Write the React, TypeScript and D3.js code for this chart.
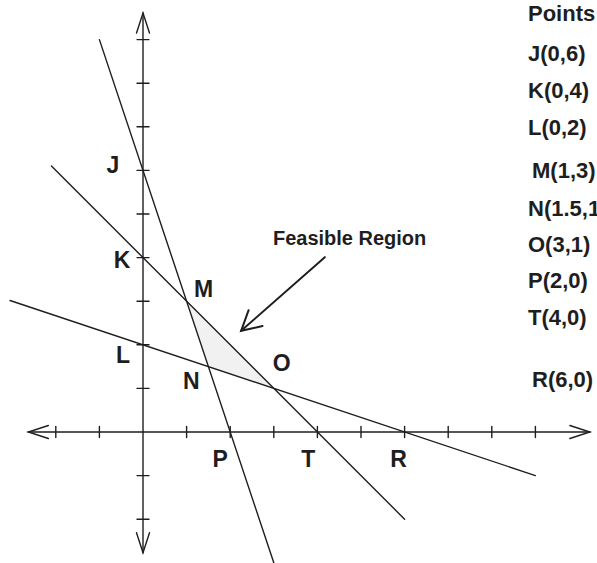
import * as d3 from "d3";
import { useCallback } from "react";

// Corner points of the constraint lines
const pointNames = ["J", "K", "L", "M", "N", "O", "P", "T", "R"];
const pointX = [0, 0, 0, 1, 1.5, 3, 2, 4, 6];
const pointY = [6, 4, 2, 3, 1.5, 1, 0, 0, 0];

// Legend text on the right ("Points" list)
const listTitle = "Points";
const listLabels = [
  "J(0,6)",
  "K(0,4)",
  "L(0,2)",
  "M(1,3)",
  "N(1.5,1.5)",
  "O(3,1)",
  "P(2,0)",
  "T(4,0)",
  "R(6,0)",
];

// Constraint lines, drawn between these x values
// y = 6 - 3x, y = 4 - x, y = 2 - x/3
const lineSlopes = [-3, -1, -1 / 3];
const lineIntercepts = [6, 4, 2];
const lineXFrom = [-1, -2.1, -3.05];
const lineXTo = [3, 6, 9];

const xTicks = [-2, -1, 1, 2, 3, 4, 5, 6, 7, 8, 9];
const yTicks = [-2, -1, 1, 2, 3, 4, 5, 6, 7, 8, 9];

const feasibleCorners = ["M", "N", "O"];
const feasibleText = "Feasible Region";

export default function App() {
  const renderChart = useCallback((ref: HTMLDivElement | null) => {
    if (!ref) return;
    const width = 597;
    const height = 563;
    const ink = "#1e1e1e";
    const font = "'Liberation Sans', Arial, Helvetica, sans-serif";

    const svg = d3
      .select(ref)
      .append("svg")
      .attr("width", width)
      .attr("height", height)
      .style("display", "block")
      .style("background", "#fff");

    // one unit is ~43.6px in both directions
    const x = d3.scaleLinear().domain([0, 6]).range([143, 404.6]);
    const y = d3.scaleLinear().domain([0, 6]).range([432, 170.4]);

    const pt = (name: string) => {
      const i = pointNames.indexOf(name);
      return [pointX[i], pointY[i]] as [number, number];
    };

    // faint shading of the feasible region
    svg
      .append("polygon")
      .attr(
        "points",
        feasibleCorners
          .map((n) => pt(n))
          .map((p) => `${x(p[0])},${y(p[1])}`)
          .join(" ")
      )
      .attr("fill", "#f1f1f1");

    const g = svg
      .append("g")
      .attr("stroke", ink)
      .attr("stroke-width", 1.4)
      .attr("fill", "none")
      .attr("stroke-linecap", "round");

    // axes
    const xMin = -2.63,
      xMax = 10.25,
      yMin = -2.77,
      yMax = 9.61;
    g.append("line")
      .attr("x1", x(xMin))
      .attr("x2", x(xMax))
      .attr("y1", y(0))
      .attr("y2", y(0));
    g.append("line")
      .attr("x1", x(0))
      .attr("x2", x(0))
      .attr("y1", y(yMin))
      .attr("y2", y(yMax));

    // open arrowheads on the axes
    const arrow = (tx: number, ty: number, dx: number, dy: number) => {
      // dx,dy = unit direction the arrow points to
      const len = 20,
        half = 6.5;
      const bx = tx - dx * len,
        by = ty - dy * len;
      g.append("path").attr(
        "d",
        `M${bx - dy * half},${by + dx * half} L${tx},${ty} L${bx + dy * half},${by - dx * half}`
      );
    };
    arrow(x(xMin), y(0), -1, 0);
    arrow(x(xMax), y(0), 1, 0);
    arrow(x(0), y(yMax), 0, -1);
    arrow(x(0), y(yMin), 0, 1);

    // tick marks
    g.selectAll("line.xt")
      .data(xTicks)
      .enter()
      .append("line")
      .attr("x1", (d) => x(d))
      .attr("x2", (d) => x(d))
      .attr("y1", y(0) - 5.5)
      .attr("y2", y(0) + 5.5);
    g.selectAll("line.yt")
      .data(yTicks)
      .enter()
      .append("line")
      .attr("x1", x(0) - 6)
      .attr("x2", x(0) + 6)
      .attr("y1", (d) => y(d))
      .attr("y2", (d) => y(d));

    // constraint lines
    lineSlopes.forEach((m, i) => {
      const b = lineIntercepts[i];
      g.append("line")
        .attr("x1", x(lineXFrom[i]))
        .attr("y1", y(m * lineXFrom[i] + b))
        .attr("x2", x(lineXTo[i]))
        .attr("y2", y(m * lineXTo[i] + b));
    });

    // point labels, offset (px) from their point
    const labelOffsets: Record<string, [number, number]> = {
      J: [-30, -5],
      K: [-21, 2],
      L: [-20, 10],
      M: [17, -12],
      N: [-17, 14],
      O: [8, -25],
      P: [-10, 27],
      T: [-9, 27],
      R: [-6, 27],
    };
    svg
      .selectAll("text.pt")
      .data(pointNames)
      .enter()
      .append("text")
      .attr("x", (d, i) => x(pointX[i]) + labelOffsets[d][0])
      .attr("y", (d, i) => y(pointY[i]) + labelOffsets[d][1])
      .attr("text-anchor", "middle")
      .attr("dominant-baseline", "central")
      .attr("font-family", font)
      .attr("font-weight", "bold")
      .attr("font-size", 23)
      .attr("fill", ink)
      .text((d) => d);

    // Feasible Region annotation
    svg
      .append("text")
      .attr("x", x(2.98))
      .attr("y", y(4.29))
      .attr("font-family", font)
      .attr("font-weight", "bold")
      .attr("font-size", 20)
      .attr("fill", ink)
      .text(feasibleText);

    const ax0 = x(4.17),
      ay0 = y(4.01),
      ax1 = x(2.25),
      ay1 = y(2.32);
    g.append("line")
      .attr("x1", ax0)
      .attr("y1", ay0)
      .attr("x2", ax1)
      .attr("y2", ay1)
      .attr("stroke-width", 2);
    {
      const ang = Math.atan2(ay1 - ay0, ax1 - ax0);
      const len = 22,
        spread = 0.5;
      const p1 = [
        ax1 - len * Math.cos(ang - spread),
        ay1 - len * Math.sin(ang - spread),
      ];
      const p2 = [
        ax1 - len * Math.cos(ang + spread),
        ay1 - len * Math.sin(ang + spread),
      ];
      g.append("path")
        .attr("d", `M${p1[0]},${p1[1]} L${ax1},${ay1} L${p2[0]},${p2[1]}`)
        .attr("stroke-width", 2);
    }

    // Points list on the right (cut off by the page edge, as in the scan)
    const listRowY = [21, 61, 98, 135, 178, 216, 252, 288, 325, 387];
    const listIndent = [0, 0, 0, 0, 4, 0, 0, 0, 0, 4];
    svg
      .selectAll("text.list")
      .data([listTitle, ...listLabels])
      .enter()
      .append("text")
      .attr("x", (_, i) => 528 + listIndent[i])
      .attr("y", (_, i) => listRowY[i])
      .attr("font-family", font)
      .attr("font-weight", "bold")
      .attr("font-size", 22)
      .attr("fill", ink)
      .text((d) => d);

    return () => {
      svg.remove();
    };
  }, []);

  return (
    <div
      ref={renderChart}
      style={{ position: "absolute", left: 0, top: 0, width: 597, height: 563, overflow: "hidden" }}
    ></div>
  );
}
